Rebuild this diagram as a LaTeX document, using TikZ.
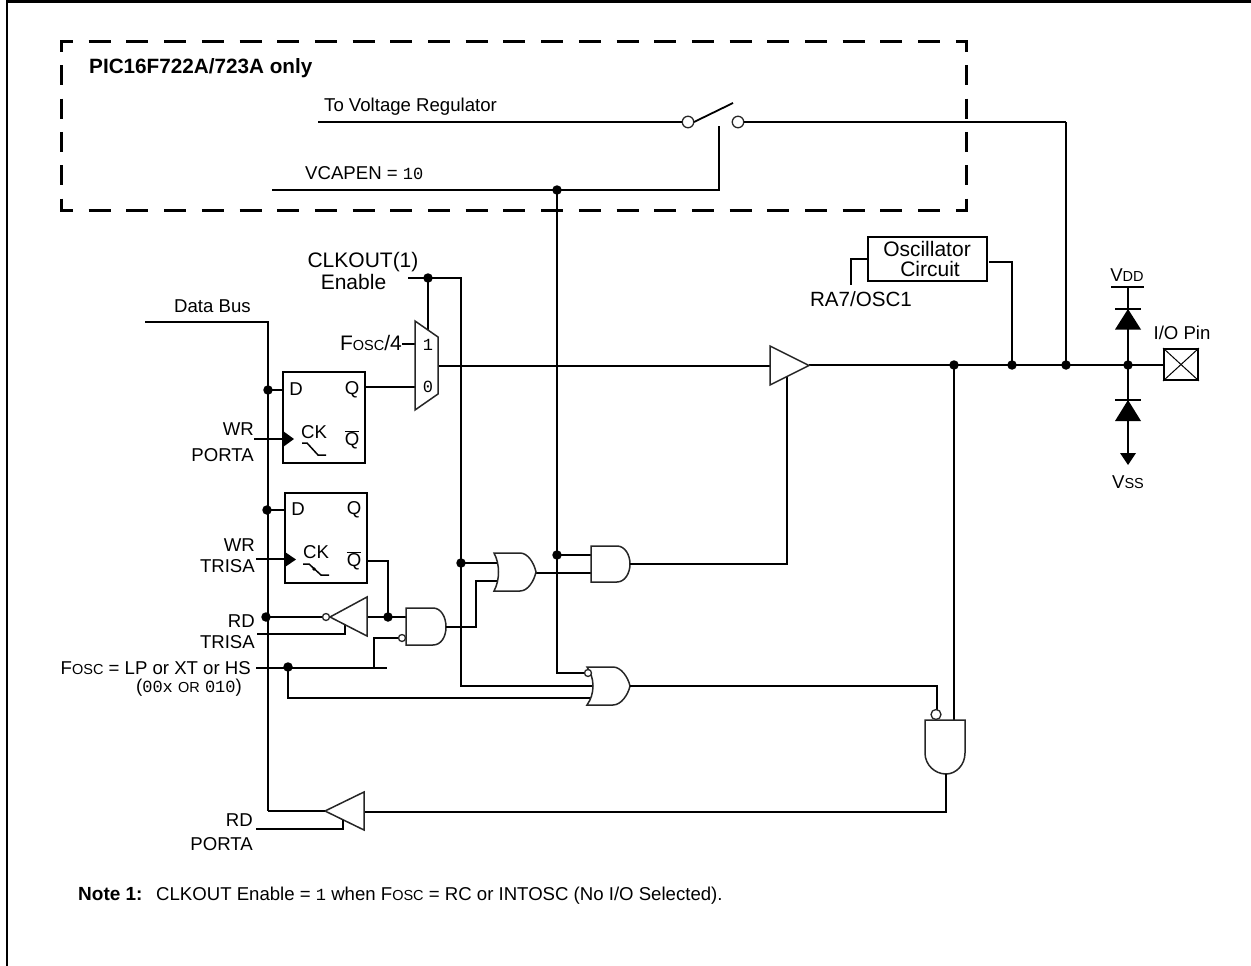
\documentclass[tikz,border=0pt]{standalone}
\usepackage{fontspec}
\setmainfont{Liberation Sans}
\setmonofont{Liberation Mono}
\newcommand{\fs}[1]{\fontsize{#1}{#1}\selectfont}
\newcommand{\lowc}[1]{{\fontsize{14.5}{14.5}\selectfont #1}}
\tikzset{
  wire/.style={draw=black,line width=2.3pt},
  thin wire/.style={draw=black,line width=1.5pt},
  gate/.style={draw=black!85,line width=1.5pt,fill=white,line join=miter},
  dotnode/.style={circle,fill=black,inner sep=0pt,minimum size=9.5pt},
  bubble/.style={circle,draw=black!85,line width=1.3pt,fill=white,inner sep=0pt,minimum size=7pt},
  swbubble/.style={circle,draw=black!85,line width=1.3pt,fill=white,inner sep=0pt,minimum size=11.5pt},
  lbl/.style={inner sep=0pt,font=\fs{18.6}},
  big/.style={inner sep=0pt,font=\fs{21}},
  hdash/.style={line width=3pt,dash pattern=on 22pt off 15.7pt,dash phase=10pt},
  vdash/.style={line width=3pt,dash pattern=on 20pt off 13.3pt,dash phase=10pt}
}
\begin{document}
\begin{tikzpicture}[x=1pt,y=-1pt]
\useasboundingbox (0,0) rectangle (1251,966);
% frame
\draw[line width=2.4pt] (7,966) -- (7,1.5) -- (1251,1.5);
% dashed box
\coordinate (bnw) at (61,42);
\coordinate (bne) at (966,42);
\coordinate (bsw) at (61,210);
\coordinate (bse) at (966,210);
\draw[hdash] (bnw) -- (bne);
\draw[hdash] (bsw) -- (bse);
\draw[vdash] (bnw) -- (bsw);
\draw[vdash] (bne) -- (bse);
\fill (59.5,40.5) rectangle (62.5,43.5);
\fill (964.5,40.5) rectangle (967.5,43.5);
\fill (59.5,208.5) rectangle (62.5,211.5);
\fill (964.5,208.5) rectangle (967.5,211.5);
\node[inner sep=0pt,anchor=base west,font=\fs{20.7}\bfseries] (title) at (89,74) {PIC16F722A/723A only};

% named pins and free ends
\coordinate (tvr) at (318,122);
\coordinate (vcs) at (272,190);
\coordinate (swctl) at (719,126);
\coordinate (swcorner) at (719,190);
\coordinate (levend) at (733,103);
\coordinate (dbs) at (145,322);
\coordinate (dbc) at (268,322);
\coordinate (dbe) at (268,811);
\coordinate (ckes) at (408,278);
\coordinate (mux1) at (428,330);
\coordinate (muxf) at (415,344);
\coordinate (mux0) at (415,387);
\coordinate (muxo) at (438,366);
\coordinate (f4e) at (402,344);

% switch
\node[swbubble] (swl) at (688,122) {};
\node[swbubble] (swr) at (738,122) {};
\draw[wire] (tvr) -- (swl);
\draw[wire] (swr) -- (1066,122) coordinate (swrc);
\draw[wire,line width=1.8pt] (694,122) -- (levend);

% junctions
\node[dotnode] (jvc) at (557,190) {};
\node[dotnode] (jcke) at (428,278) {};
\node[dotnode] (jd1) at (268,390) {};
\node[dotnode] (jd2) at (267,510) {};
\node[dotnode] (jrd) at (266,617) {};
\node[dotnode] (jqb) at (388,617) {};
\node[dotnode] (jfo) at (288,667) {};
\node[dotnode] (jor) at (461,563) {};
\node[dotnode] (jan) at (557,555) {};
\node[dotnode] (jn) at (954,365) {};
\node[dotnode] (jo) at (1012,365) {};
\node[dotnode] (jr) at (1066,365) {};
\node[dotnode] (jp) at (1128,365) {};

% buses and long wires
\draw[wire] (vcs) -- (swcorner) -- (swctl);
\draw[wire] (jvc.center) -- (557,673) -- (584.5,673);
\draw[wire] (dbs) -- (dbc) -- (dbe);
\draw[wire] (ckes) -- (461,278) -- (461,686) -- (592,686);
\draw[wire] (jcke.center) -- (mux1);
\draw[wire] (f4e) -- (muxf);
\draw[wire] (365,387) -- (mux0);
\draw[wire] (jd1.center) -- (283,390);
\draw[wire] (jd2.center) -- (285,510);
\draw[wire] (muxo) -- (770,366);
\draw[wire] (809,365) -- (1164,365);
\draw[wire] (swrc) -- (jr.center);
\draw[wire] (989,262) -- (1012,262) -- (jo.center);
\draw[wire] (868,259) -- (851,259) -- (851,285);

% mux
\draw[gate] (415,321) -- (438,337) -- (438,394) -- (415,410) -- cycle;
\node[inner sep=0pt,font=\fs{17}\ttfamily] (m1) at (428,345) {1};
\node[inner sep=0pt,font=\fs{17}\ttfamily] (m0) at (428,387) {0};
\node[big,anchor=east] (f4) at (402,343) {F\lowc{OSC}/4};

% flip flops
\node[draw=black,line width=1.9pt,minimum width=82pt,minimum height=91pt,inner sep=0pt] (ff1) at (324,417.5) {};
\node[draw=black,line width=1.9pt,minimum width=82pt,minimum height=90pt,inner sep=0pt] (ff2) at (326,538) {};
\node[lbl] (d1) at (296,389.5) {D};
\node[lbl] (q1) at (352,389.5) {Q};
\node[lbl] (ck1) at (314,432) {CK};
\node[lbl] (qb1) at (352,440) {$\overline{\mbox{Q}}$};
\node[lbl] (d2) at (298,509.5) {D};
\node[lbl] (q2) at (354,509.5) {Q};
\node[lbl] (ck2) at (316,552) {CK};
\node[lbl] (qb2) at (354,561) {$\overline{\mbox{Q}}$};
\coordinate (wp) at (254,439);
\coordinate (wt) at (256,559);
\draw[wire] (wp) -- (283,439);
\draw[wire] (wt) -- (285,559);
\fill (283,431) -- (294,439) -- (283,447) -- cycle;
\fill (285,552) -- (296,559.5) -- (285,567) -- cycle;
\draw[thin wire] (302,443) -- (307,443) -- (318,455) -- (326,455);
\draw[thin wire] (303,564) -- (309,564) -- (321,575) -- (329,575);
\fill (314,569) circle (1.8pt);

% lower left
\coordinate (rdt) at (257,634);
\coordinate (fos) at (256,668);
\draw[wire] (jrd.center) -- (323,617);
\draw[wire] (rdt) -- (345,634) -- (345,625);
\draw[wire] (367,617) -- (406,617);
\draw[wire] (368,561) -- (388,561) -- (jqb.center);
\draw[wire] (fos) -- (387,668);
\draw[wire] (374,668) -- (374,638) -- (398.5,638);
\draw[wire] (288,667) -- (288,698) -- (593,698);
\draw[gate] (330,617) -- (367,597) -- (367,636) -- cycle;
\node[bubble] (bi) at (326,617) {};

% AND1
\draw[gate] (433,608) .. controls (441,608) and (446,617) .. (446,627) .. controls (446,637) and (441,645) .. (433,645) -- (406,645) -- (406,608) -- cycle;
\node[bubble] (ba1) at (402,638) {};
\draw[wire] (446,627) -- (476,627) -- (476,581) -- (498,581);
\draw[wire] (jor.center) -- (498,563);
\draw[wire] (536,573) -- (591,573);
\draw[wire] (jan.center) -- (591,555);

% OR1
\draw[gate] (494,553) -- (520,553) .. controls (528,553) and (534,563) .. (536,572) .. controls (534,581) and (528,591) .. (520,591) -- (494,591) .. controls (500,580) and (500,564) .. (494,553) -- cycle;
% AND2
\draw[gate] (617,546) .. controls (625,546) and (630,555) .. (630,564) .. controls (630,573) and (625,582) .. (617,582) -- (591,582) -- (591,546) -- cycle;
\draw[wire] (630,564) -- (787,564) -- (787,377);
% OR2
\draw[gate] (587,667) -- (613,667) .. controls (621,667) and (628,677) .. (630,686) .. controls (628,695) and (621,705) .. (613,705) -- (587,705) .. controls (595,694) and (595,678) .. (587,667) -- cycle;
\node[bubble] (bo2) at (588,673) {};
\draw[wire] (630,686) -- (937,686) -- (937,710);
\draw[wire] (jn.center) -- (954,720);
% AND3
\draw[gate] (925,720) -- (965,720) -- (965,753) .. controls (965,765) and (956,774) .. (946,774) .. controls (935,774) and (925,765) .. (925,753) -- cycle;
\node[bubble,minimum size=10pt] (ba3) at (936,714.5) {};
\draw[wire] (946,774) -- (946,812) -- (364,812);
% buffers
\draw[gate] (770,346) -- (809,365.5) -- (770,385) -- cycle;
\draw[gate] (325,811) -- (364,792) -- (364,830) -- cycle;
\draw[wire] (268,811) -- (325,811);
\coordinate (rdp) at (256,829);
\draw[wire] (rdp) -- (343,829) -- (343,820);

% oscillator
\node[draw=black,line width=1.9pt,minimum width=119pt,minimum height=44pt,inner sep=0pt] (osc) at (927.5,259) {};
\node[big] (osc1) at (927,249) {Oscillator};
\node[big] (osc2) at (930,269) {Circuit};
\node[big,font=\fs{20.6}] (ra7) at (861,299) {RA7/OSC1};

% pad
\node[draw=black,line width=1.9pt,minimum width=34pt,minimum height=31pt,inner sep=0pt] (pad) at (1181,364.5) {};
\draw[line width=1pt] (pad.north west) -- (pad.south east);
\draw[line width=1pt] (pad.north east) -- (pad.south west);
\node[lbl] (io) at (1182,333) {I/O Pin};

% diodes
\coordinate (vddb) at (1128,287);
\coordinate (vsst) at (1128,453);
\draw[wire] (1111,287) -- (1144,287);
\draw[wire] (vddb) -- (jp.center) -- (vsst);
\draw[wire] (1115,309) -- (1141,309);
\fill (1128,309) -- (1141,329.5) -- (1115,329.5) -- cycle;
\draw[wire] (1115,400) -- (1141,400);
\fill (1128,400) -- (1141,421) -- (1115,421) -- cycle;
\fill (1120,453) -- (1136,453) -- (1128,465) -- cycle;
\node[lbl] (vdd) at (1127,275) {V\lowc{DD}};
\node[lbl] (vss) at (1128,482) {V\lowc{SS}};

% labels
\node[lbl,anchor=base west] (ltvr) at (324,111) {To Voltage Regulator};
\node[lbl,anchor=base west] (lvc) at (305,179) {VCAPEN = {\fs{17}\ttfamily 10}};
\node[big] (lck) at (363,262) {CLKOUT(1)};
\node[big] (len) at (353.5,282) {Enable};
\node[lbl,anchor=west] (ldb) at (174,306) {Data Bus};
\node[lbl,anchor=east] (l1) at (254,429) {WR};
\node[lbl,anchor=east] (l2) at (254,455) {PORTA};
\node[lbl,anchor=east] (l3) at (255,545) {WR};
\node[lbl,anchor=east] (l4) at (255,566) {TRISA};
\node[lbl,anchor=east] (l5) at (255,621) {RD};
\node[lbl,anchor=east] (l6) at (255,642) {TRISA};
\node[lbl,anchor=east] (l7) at (251,668) {F\lowc{OSC} = LP or XT or HS};
\node[lbl,anchor=east] (l8) at (242,688) {({\fs{17}\ttfamily 00x} \lowc{OR} {\fs{17}\ttfamily 010})};
\node[lbl,anchor=east] (l9) at (253,820) {RD};
\node[lbl,anchor=east] (l10) at (253,844) {PORTA};
\node[inner sep=0pt,anchor=base west,font=\fs{19}\bfseries] (n1) at (78,900.5) {Note 1:};
\node[inner sep=0pt,anchor=base west,font=\fs{18.6}] (n2) at (156,900.5) {CLKOUT Enable = {\fs{17}\ttfamily 1} when F\lowc{OSC} = RC or INTOSC (No I/O Selected).};
\end{tikzpicture}
\end{document}
